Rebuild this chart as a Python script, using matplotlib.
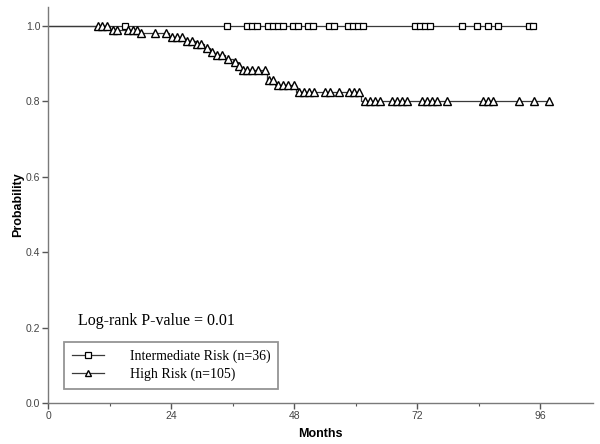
import numpy as np
import matplotlib
matplotlib.use("Agg")
import matplotlib.pyplot as plt
from matplotlib.lines import Line2D

# ---- data (months / survival probability) ----
inter_censor = [15.0, 34.9, 38.8, 39.8, 40.8, 42.9, 43.9, 44.9, 45.9, 47.8, 48.8,
                50.7, 51.7, 54.8, 55.8, 58.5, 59.5, 60.5, 61.5, 71.6, 72.6, 73.6,
                74.5, 80.8, 83.7, 85.9, 87.8, 93.9, 94.6]
inter_end = 94.6

high_event_times = [12.1, 17.8, 23.6, 26.5, 28.9, 30.4, 31.6, 32.4, 34.5, 36.1,
                    37.1, 37.7, 42.7, 44.3, 48.4, 61.1]
high_event_surv = [0.990, 0.980, 0.970, 0.961, 0.951, 0.942, 0.932, 0.922, 0.913,
                   0.903, 0.893, 0.883, 0.857, 0.843, 0.825, 0.800]
high_censor = [9.76, 10.54, 11.51,
               12.68, 13.46, 15.61, 16.59, 17.37,
               18.15, 20.88, 23.02,
               24.20, 25.17, 26.15,
               27.12, 28.10,
               29.07, 29.85,
               31.02, 32.0, 32.98, 33.95, 35.12, 36.49, 37.27,
               38.05, 38.83, 39.8, 40.98, 42.34,
               43.12, 43.9,
               44.88, 45.85, 46.83, 48.0,
               48.98, 49.95, 50.93, 51.9, 54.05, 55.02, 56.78, 58.73, 59.71, 60.68,
               61.85, 62.83, 63.8, 64.78, 67.12, 68.1, 69.07, 70.05, 72.98, 73.95,
               74.93, 75.9, 77.85, 84.88, 85.85, 86.83, 91.9, 94.83, 97.76]
high_end = 97.76

x_ticks = [0, 24, 48, 72, 96]
y_ticks = [0.0, 0.2, 0.4, 0.6, 0.8, 1.0]
legend_labels = ["Intermediate Risk (n=36)", "High Risk (n=105)"]
annotation = "Log-rank P-value = 0.01"

# ---- figure ----
fig = plt.figure(figsize=(6.0, 4.44), dpi=100)
ax = fig.add_axes([48 / 600, 1 - 403 / 444, (593 - 48) / 600, (403 - 7) / 444])

line_col = "#3a3a3a"

# Intermediate risk: flat at 1.0
ax.plot([0, inter_end], [1.0, 1.0], color=line_col, lw=0.9, zorder=2)
ax.plot(inter_censor, np.ones(len(inter_censor)), ls="none", marker="s", ms=4.5,
        mfc="white", mec="black", mew=0.9, zorder=3)

# High risk step curve
t = np.array([0.0] + high_event_times + [high_end])
s = np.array([1.0] + high_event_surv + [high_event_surv[-1]])
ax.step(t, s, where="post", color=line_col, lw=0.9, zorder=2)
hc = np.array(high_censor)
idx = np.searchsorted(t, hc, side="right") - 1
ax.plot(hc, s[idx], ls="none", marker="^", ms=5.6, mfc="white", mec="black",
        mew=1.0, zorder=4)

ax.set_xlim(0, 106.3)
ax.set_ylim(0, 1.05)
ax.set_xticks(x_ticks)
ax.set_xticks([12, 36, 60, 84], minor=True)
ax.set_yticks(y_ticks)
ax.set_yticklabels([f"{v:.1f}" for v in y_ticks])

for sp in ["top", "right"]:
    ax.spines[sp].set_visible(False)
for sp in ["left", "bottom"]:
    ax.spines[sp].set_color("#7a7a7a")
    ax.spines[sp].set_linewidth(1.0)

ax.tick_params(axis="both", which="major", direction="out", length=4,
               width=1.0, color="#555555", labelsize=7.5, labelcolor="#444444", pad=1.5)
ax.tick_params(axis="x", which="minor", direction="out", length=2.5, width=0.8,
               color="#555555")

ax.set_xlabel("Months", fontsize=9, fontweight="bold", family="Liberation Sans",
              labelpad=5)
ax.set_ylabel("Probability", fontsize=9, fontweight="bold", family="Liberation Sans",
              labelpad=1)
for lab in ax.get_xticklabels() + ax.get_yticklabels():
    lab.set_family("Liberation Sans")

fig.text(78 / 600, 1 - 321 / 444, annotation, family="Liberation Serif",
         fontsize=11.5, va="center", ha="left")

handles = [
    Line2D([], [], color=line_col, lw=0.9, marker="s", ms=4.0, mfc="white",
           mec="black", mew=0.9),
    Line2D([], [], color=line_col, lw=0.9, marker="^", ms=5.0, mfc="white",
           mec="black", mew=1.0),
]
leg = fig.legend(handles, legend_labels, loc="lower left",
                 bbox_to_anchor=(64 / 600, 1 - 389 / 444),
                 bbox_transform=fig.transFigure, borderaxespad=0,
                 prop={"family": "Liberation Serif", "size": 10},
                 frameon=True, fancybox=False, edgecolor="#7a7a7a",
                 handlelength=2.3, handletextpad=1.9, labelspacing=0.35,
                 borderpad=0.55)
leg.get_frame().set_linewidth(1.3)

fig.savefig("out.png", dpi=100)
